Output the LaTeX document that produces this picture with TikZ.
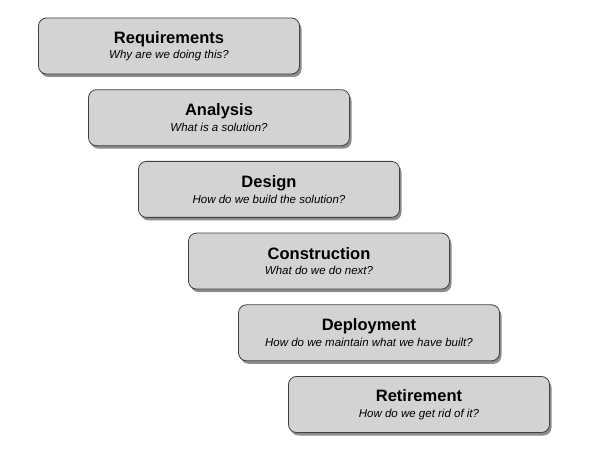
\documentclass[tikz,border=0pt]{standalone}
\usepackage{fontspec}
\setmainfont{Liberation Sans}
\usetikzlibrary{shadows}
\definecolor{phasefill}{HTML}{D3D3D3}
\definecolor{phaseline}{HTML}{404040}
\tikzset{
  phase/.style={draw=phaseline, line width=0.8pt, fill=phasefill, rounded corners=8pt,
    minimum width=261pt, minimum height=56pt, align=center, inner sep=2pt,
    drop shadow={shadow xshift=2pt, shadow yshift=-3pt, opacity=0.45, fill=black}},
}
\newcommand{\phasetext}[2]{{\bfseries\fontsize{16.5}{18}\selectfont #1}\\[3.5pt]{\itshape\fontsize{11.5}{13}\selectfont #2}}
\begin{document}
\begin{tikzpicture}[x=1pt, y=-1pt]
                \useasboundingbox (0,0) rectangle (592,457);

                \node [phase] (req) at (169,46) {\phasetext{Requirements}{Why are we doing this?}};
                \node [phase] (ana) at (219,117.7) {\phasetext{Analysis}{What is a solution?}};
                \node [phase] (des) at (269,189.4) {\phasetext{Design}{How do we build the solution?}};
                \node [phase] (con) at (319,261.1) {\phasetext{Construction}{What do we do next?}};
                \node [phase] (dep) at (369,332.8) {\phasetext{Deployment}{How do we maintain what we have built?}};
                \node [phase] (ret) at (419,404.5) {\phasetext{Retirement}{How do we get rid of it?}};
            \end{tikzpicture}
\end{document}
